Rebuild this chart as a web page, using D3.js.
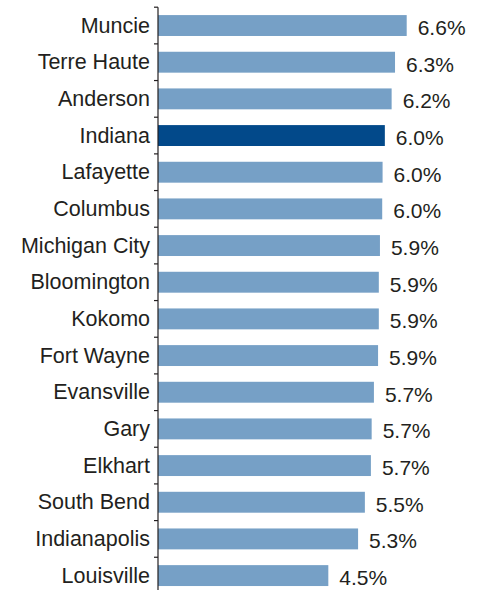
<!DOCTYPE html>
<html>
<head>
<meta charset="utf-8">
<script src="https://cdn.jsdelivr.net/npm/d3@7"></script>
<style>
  body { margin: 0; background: #fff; }
  text { font-family: "Liberation Sans", Arial, Helvetica, sans-serif; fill: #231f20; }
</style>
</head>
<body>
<div id="chart"></div>
<script>
// chart data
var cities = ["Muncie", "Terre Haute", "Anderson", "Indiana", "Lafayette", "Columbus",
  "Michigan City", "Bloomington", "Kokomo", "Fort Wayne", "Evansville", "Gary",
  "Elkhart", "South Bend", "Indianapolis", "Louisville"];
var rates = [6.60, 6.29, 6.20, 6.02, 5.96, 5.95, 5.89, 5.86, 5.86, 5.84, 5.73, 5.67,
  5.65, 5.49, 5.31, 4.52];
var rateLabels = ["6.6%", "6.3%", "6.2%", "6.0%", "6.0%", "6.0%", "5.9%", "5.9%",
  "5.9%", "5.9%", "5.7%", "5.7%", "5.7%", "5.5%", "5.3%", "4.5%"];
var highlight = "Indiana";

var svgWidth = 483;
var svgHeight = 590;

var Margin = { top: 7.2, left: 158 };

var svg = d3.select("#chart")
  .append("svg")
  .attr("width", svgWidth)
  .attr("height", svgHeight);

var rows = cities.map(function(c, i) {
  return { city: c, rate: rates[i], label: rateLabels[i] };
});

// scales
var xScale = d3.scaleLinear()
  .domain([0, 6.6])
  .range([Margin.left, 406.7]);

var yScale = d3.scaleBand()
  .domain(cities)
  .range([Margin.top, Margin.top + 16 * 36.67])
  .paddingInner(0.43)
  .paddingOuter(0.215);

var step = yScale.step();

// bars
svg.selectAll("rect.bar")
  .data(rows)
  .enter()
  .append("rect")
  .attr("class", "bar")
  .attr("x", xScale(0))
  .attr("y", d => yScale(d.city))
  .attr("width", d => xScale(d.rate) - xScale(0))
  .attr("height", yScale.bandwidth())
  .attr("fill", d => d.city === highlight ? "#02498a" : "#76a0c6");

// value labels
svg.selectAll("text.value")
  .data(rows)
  .enter()
  .append("text")
  .attr("class", "value")
  .attr("x", d => xScale(d.rate) + 11)
  .attr("y", d => yScale(d.city) + yScale.bandwidth() / 2 + 9.5)
  .attr("font-size", "21px")
  .text(d => d.label);

// category axis with ticks between bands
var axisG = svg.append("g");

axisG.append("line")
  .attr("x1", Margin.left)
  .attr("x2", Margin.left)
  .attr("y1", Margin.top)
  .attr("y2", svgHeight)
  .attr("stroke", "#231f20")
  .attr("stroke-width", 1.2);

axisG.selectAll("line.tick")
  .data(d3.range(cities.length + 1))
  .enter()
  .append("line")
  .attr("class", "tick")
  .attr("x1", Margin.left - 4)
  .attr("x2", Margin.left)
  .attr("y1", i => Margin.top + i * step)
  .attr("y2", i => Margin.top + i * step)
  .attr("stroke", "#231f20")
  .attr("stroke-width", 1.2);

axisG.selectAll("text.cat")
  .data(rows)
  .enter()
  .append("text")
  .attr("class", "cat")
  .attr("x", Margin.left - 8)
  .attr("y", d => yScale(d.city) + yScale.bandwidth() / 2 + 7.2)
  .attr("text-anchor", "end")
  .attr("font-size", "21.5px")
  .text(d => d.city);
</script>
</body>
</html>
